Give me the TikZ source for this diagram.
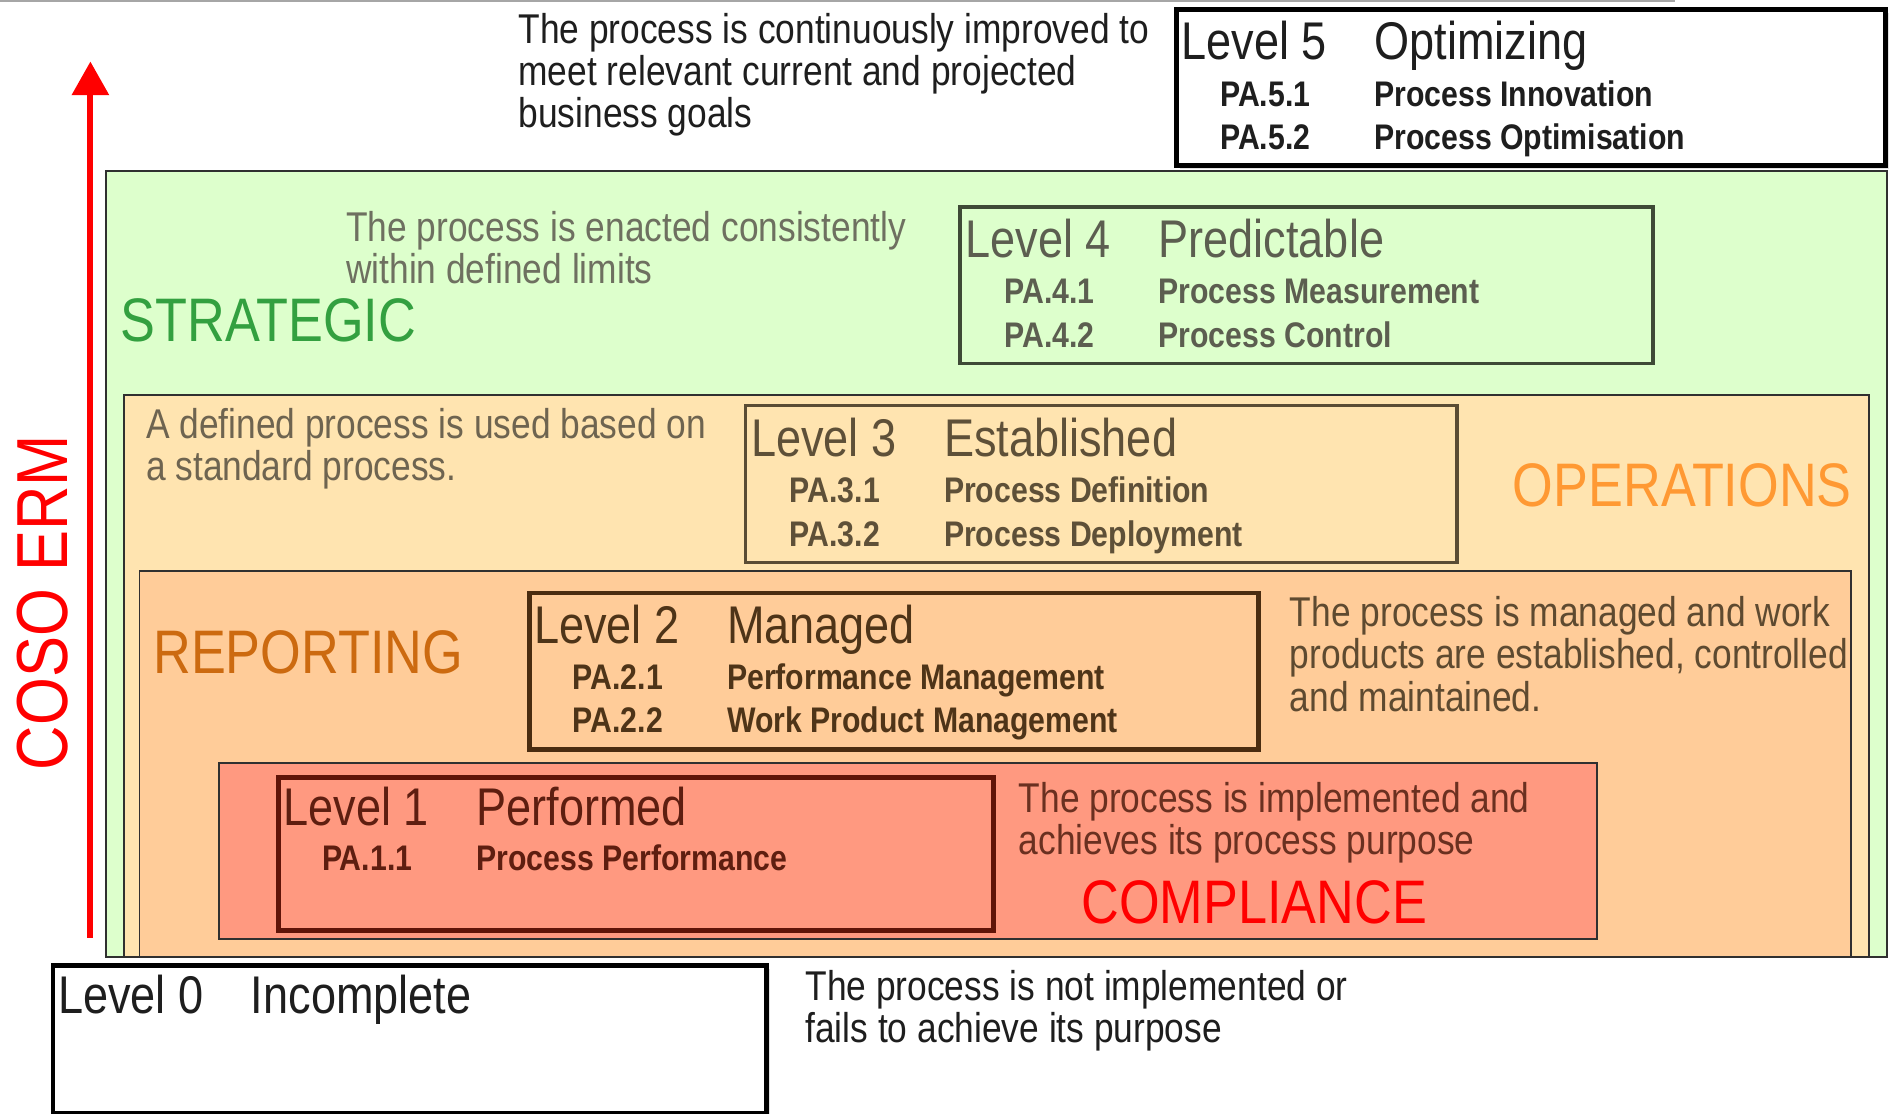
\documentclass[tikz,border=0pt]{standalone}
\usepackage{fontspec}
\setmainfont[FakeStretch=0.85]{Liberation Sans}
\usetikzlibrary{calc,arrows.meta,shadows}
\definecolor{stratfill}{HTML}{DDFFCC}
\definecolor{operfill}{HTML}{FFE4B0}
\definecolor{repfill}{HTML}{FFCC99}
\definecolor{compfill}{HTML}{FF9980}
\definecolor{regline}{HTML}{303030}
\definecolor{stratcol}{HTML}{33A040}
\definecolor{opercol}{HTML}{FF9933}
\definecolor{repcol}{HTML}{CC6A10}
\definecolor{compcol}{HTML}{FF0000}
\definecolor{cfive}{HTML}{1E1E1E}
\definecolor{cfour}{HTML}{5C5E50}
\definecolor{cthree}{HTML}{5E5038}
\definecolor{ctwo}{HTML}{4E3418}
\definecolor{cone}{HTML}{5E1E10}
\definecolor{bfour}{HTML}{3E4A36}
\definecolor{bthree}{HTML}{5A4C34}
\definecolor{btwo}{HTML}{4A2C10}
\definecolor{bone}{HTML}{601408}
\definecolor{dfour}{HTML}{6E7060}
\definecolor{dthree}{HTML}{6E6450}
\definecolor{dtwo}{HTML}{5E4A30}
\definecolor{done}{HTML}{6A3020}
\begin{document}
\begin{tikzpicture}[x=1pt,y=-1pt,
  region/.style={draw=regline, line width=1.5pt, anchor=north west, inner sep=0pt},
  lvlbox/.style={anchor=north west, inner sep=0pt, line width=3.5pt},
  ttl/.style={anchor=base west, inner sep=0pt, font=\fontsize{44}{44}\selectfont},
  pa/.style={anchor=base west, inner sep=0pt, font=\fontsize{29.5}{30}\selectfont\bfseries},
  dsc/.style={anchor=base west, inner sep=0pt, font=\fontsize{34.5}{35}\selectfont},
  cat/.style={anchor=base west, inner sep=0pt, font=\fontsize{51}{51}\selectfont}]
\useasboundingbox (0,0) rectangle (1568,924);
\fill[white] (0,0) rectangle (1568,924);
\draw[gray!70, line width=2pt] (0,1) -- (1390,1);

% regions
\node[region, fill=stratfill, minimum width=1478pt, minimum height=652pt] (strat) at (87,141) {};
\node[region, fill=operfill, minimum width=1448pt, minimum height=466pt] (oper) at (102,327) {};
\node[region, fill=repfill, minimum width=1420pt, minimum height=320pt] (rep) at (115,473) {};
\node[region, fill=compfill, minimum width=1143pt, minimum height=146pt] (comp) at (181,632) {};

% category labels
\node[cat, text=stratcol] (tstrat) at (100,283) {STRATEGIC};
\node[cat, text=opercol] (toper) at (1255,420) {OPERATIONS};
\node[cat, text=repcol] (trep) at (127,559) {REPORTING};
\node[cat, text=compcol] (tcomp) at (897,766) {COMPLIANCE};

% arrow and COSO ERM
\coordinate (ab) at (75,778);
\coordinate (at) at (75,51);
\draw[red, line width=5pt, -{Triangle[width=30pt,length=28pt]}] (ab) -- (at);
\node[rotate=90, text=red, inner sep=0pt, font=\fontsize{60}{60}\selectfont] (coso) at (35,500) {COSO ERM};

% Level 5
\node[lvlbox, draw=black, fill=white, line width=4pt, minimum width=588pt, minimum height=129pt,
  drop shadow={shadow xshift=3pt, shadow yshift=-3pt, opacity=0.25}] (L5) at (974,6) {};
\node[ttl, text=cfive] (L5a) at ($(L5.north west)+(6,43)$) {Level 5};
\node[ttl, text=cfive] (L5b) at ($(L5.north west)+(166,43)$) {Optimizing};
\node[pa, text=cfive] (L5c) at ($(L5.north west)+(38,82)$) {PA.5.1};
\node[pa, text=cfive] (L5d) at ($(L5.north west)+(166,82)$) {Process Innovation};
\node[pa, text=cfive] (L5e) at ($(L5.north west)+(38,118)$) {PA.5.2};
\node[pa, text=cfive] (L5f) at ($(L5.north west)+(166,118)$) {Process Optimisation};
\node[dsc, text=cfive] (D5) at (430,36) {\vtop{\hbox{The process is continuously improved to}\hbox{meet relevant current and projected}\hbox{business goals}}};

% Level 4
\node[lvlbox, draw=bfour, line width=3pt, minimum width=575pt, minimum height=130pt] (L4) at (795,170) {};
\node[ttl, text=cfour] (L4a) at ($(L4.north west)+(6,44)$) {Level 4};
\node[ttl, text=cfour] (L4b) at ($(L4.north west)+(166,44)$) {Predictable};
\node[pa, text=cfour] (L4c) at ($(L4.north west)+(38,82)$) {PA.4.1};
\node[pa, text=cfour] (L4d) at ($(L4.north west)+(166,82)$) {Process Measurement};
\node[pa, text=cfour] (L4e) at ($(L4.north west)+(38,118)$) {PA.4.2};
\node[pa, text=cfour] (L4f) at ($(L4.north west)+(166,118)$) {Process Control};
\node[dsc, text=dfour] (D4) at (287,200) {\vtop{\hbox{The process is enacted consistently}\hbox{within defined limits}}};

% Level 3
\node[lvlbox, draw=bthree, line width=3pt, minimum width=590pt, minimum height=130pt] (L3) at (617,335) {};
\node[ttl, text=cthree] (L3a) at ($(L3.north west)+(6,44)$) {Level 3};
\node[ttl, text=cthree] (L3b) at ($(L3.north west)+(166,44)$) {Established};
\node[pa, text=cthree] (L3c) at ($(L3.north west)+(38,82)$) {PA.3.1};
\node[pa, text=cthree] (L3d) at ($(L3.north west)+(166,82)$) {Process Definition};
\node[pa, text=cthree] (L3e) at ($(L3.north west)+(38,118)$) {PA.3.2};
\node[pa, text=cthree] (L3f) at ($(L3.north west)+(166,118)$) {Process Deployment};
\node[dsc, text=dthree] (D3) at (121,364) {\vtop{\hbox{A defined process is used based on}\hbox{a standard process.}}};

% Level 2
\node[lvlbox, draw=btwo, line width=4pt, minimum width=605pt, minimum height=130pt] (L2) at (437,490) {};
\node[ttl, text=ctwo] (L2a) at ($(L2.north west)+(6,44)$) {Level 2};
\node[ttl, text=ctwo] (L2b) at ($(L2.north west)+(166,44)$) {Managed};
\node[pa, text=ctwo] (L2c) at ($(L2.north west)+(38,82)$) {PA.2.1};
\node[pa, text=ctwo] (L2d) at ($(L2.north west)+(166,82)$) {Performance Management};
\node[pa, text=ctwo] (L2e) at ($(L2.north west)+(38,118)$) {PA.2.2};
\node[pa, text=ctwo] (L2f) at ($(L2.north west)+(166,118)$) {Work Product Management};
\node[dsc, text=dtwo] (D2) at (1070,520) {\vtop{\hbox{The process is managed and work}\hbox{products are established, controlled}\hbox{and maintained.}}};

% Level 1
\node[lvlbox, draw=bone, line width=4pt, minimum width=593pt, minimum height=127pt] (L1) at (229,643) {};
\node[ttl, text=cone] (L1a) at ($(L1.north west)+(6,42)$) {Level 1};
\node[ttl, text=cone] (L1b) at ($(L1.north west)+(166,42)$) {Performed};
\node[pa, text=cone] (L1c) at ($(L1.north west)+(38,79)$) {PA.1.1};
\node[pa, text=cone] (L1d) at ($(L1.north west)+(166,79)$) {Process Performance};
\node[dsc, text=done] (D1) at (845,674) {\vtop{\hbox{The process is implemented and}\hbox{achieves its process purpose}}};

% Level 0
\node[lvlbox, draw=black, fill=white, line width=4pt, minimum width=592pt, minimum height=123pt,
  drop shadow={shadow xshift=3pt, shadow yshift=-3pt, opacity=0.25}] (L0) at (42,799) {};
\node[ttl, text=cfive] (L0a) at ($(L0.north west)+(6,42)$) {Level 0};
\node[ttl, text=cfive] (L0b) at ($(L0.north west)+(166,42)$) {Incomplete};
\node[dsc, text=cfive] (D0) at (668,830) {\vtop{\hbox{The process is not implemented or}\hbox{fails to achieve its purpose}}};
\end{tikzpicture}
\end{document}
